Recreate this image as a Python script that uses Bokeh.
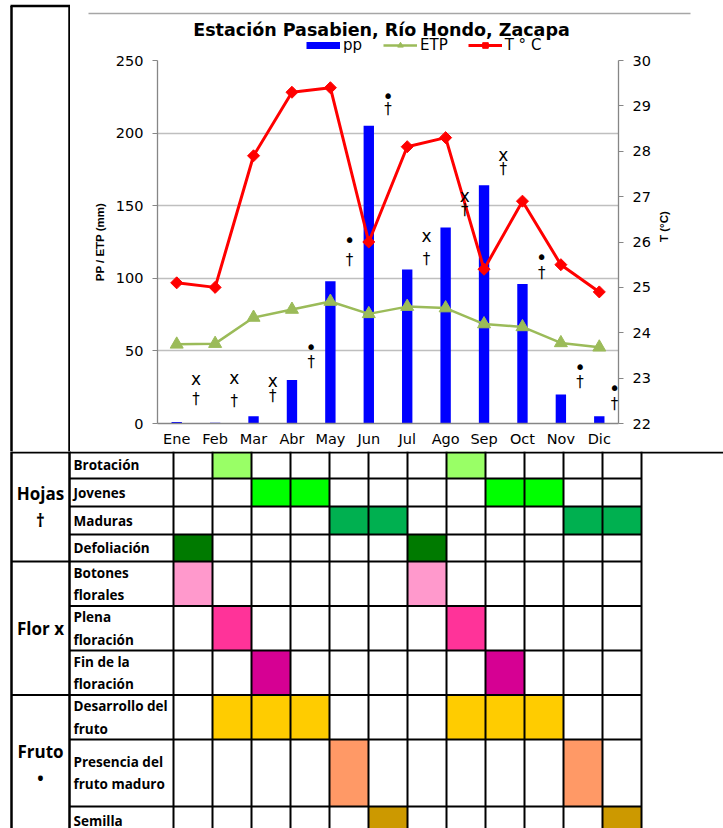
import numpy as np
from bokeh.plotting import figure
from bokeh.models import (Range1d, LinearAxis, FixedTicker, Legend, LegendItem,
                          ColumnDataSource, FactorRange, LabelSet)
from bokeh.transform import dodge
from bokeh.layouts import column, row
from bokeh.embed import file_html
from bokeh.resources import INLINE
from bokeh.core.properties import value

# ---------------- data ----------------
months = ["Ene", "Feb", "Mar", "Abr", "May", "Jun", "Jul", "Ago", "Sep", "Oct", "Nov", "Dic"]
pp = [1, 0.5, 5, 30, 98, 205, 106, 135, 164, 96, 20, 5]            # mm
etp = [54.5, 55, 73, 78.5, 84, 75.5, 80.5, 79.5, 68.5, 66.5, 55.5, 52.5]  # mm
temp = [25.1, 25.0, 27.9, 29.3, 29.4, 26.0, 28.1, 28.3, 25.4, 26.9, 25.5, 24.9]  # deg C
pp_ticks = [0, 50, 100, 150, 200, 250]
t_ticks = [22, 23, 24, 25, 26, 27, 28, 29, 30]
title_text = "Estación Pasabien, Río Hondo, Zacapa"

# phenology symbols drawn in the chart (flor x / fruto •, hojas †), height in mm units
stage_symbol = ["x", "x", "x", "•", "•", "•", "x", "x", "x", "•", "•", "•"]
stage_symbol_y = [30.8, 31.0, 29.1, 53.0, 126.5, 225.3, 129.4, 157.0, 185.2, 115.0, 39.2, 24.6]
leaf_symbol_y = [17.0, 15.4, 18.8, 42.2, 112.7, 216.7, 113.4, 147.1, 175.4, 103.5, 28.4, 13.1]

# phenology table
phen_rows = [["Brotación"], ["Jovenes"], ["Maduras"], ["Defoliación"],
             ["Botones", "florales"], ["Plena", "floración"], ["Fin de la", "floración"],
             ["Desarrollo del", "fruto"], ["Presencia del", "fruto maduro"], ["Semilla"]]
phen_months = [["Feb", "Ago"], ["Mar", "Abr", "Sep", "Oct"], ["May", "Jun", "Nov", "Dic"],
               ["Ene", "Jul"], ["Ene", "Jul"], ["Feb", "Ago"], ["Mar", "Sep"],
               ["Feb", "Mar", "Abr", "Ago", "Sep", "Oct"], ["May", "Nov"], ["Jun", "Dic"]]
phen_colors = ["#99FF66", "#00FF00", "#00B050", "#007A00", "#FF99CC", "#FF3399",
               "#D60093", "#FFCC00", "#FF9966", "#CC9900"]
group_labels = [["Hojas", "†"], ["Flor x"], ["Fruto", "•"]]
group_rows = [(0, 3), (4, 6), (7, 9)]

FONT = "DejaVu Sans"
LABEL_FONT = "Liberation Sans"
C_PP, C_ETP, C_T = "#0000FF", "#9BBB59", "#FF0000"
STRIP_W = 70
HEAD_H = 54
CHART_BOTTOM = 451
PAGE_W, PAGE_H = 723, 828


def bare(width, height, x0, x1, y_top, y_bottom):
    f = figure(width=width, height=height, x_range=Range1d(x0, x1), y_range=Range1d(y_bottom, y_top),
               output_backend="svg", toolbar_location=None, x_axis_type=None, y_axis_type=None,
               min_border=0)
    f.outline_line_color = None
    f.grid.visible = False
    return f


# ---------------- left strip beside title + chart ----------------
strip = bare(STRIP_W, CHART_BOTTOM, 0, STRIP_W, 0, CHART_BOTTOM)
strip.segment(x0=[10, 11, 69], y0=[5.5, 5.5, 5.5], x1=[70, 11, 69],
              y1=[5.5, CHART_BOTTOM + 6, CHART_BOTTOM + 6],
              line_color="black", line_width=2.5)

# ---------------- head: rule, title, legend ----------------
head = bare(PAGE_W - STRIP_W, HEAD_H, STRIP_W, PAGE_W, 0, HEAD_H)
head.segment(x0=[88], y0=[13], x1=[690], y1=[13], line_color="#A6A6A6", line_width=1.5)
head.text(x=[381], y=[29], text=[title_text], text_font=value(FONT), text_font_style="bold",
          text_font_size="17.5px", text_align="center", text_baseline="middle", text_color="black")
k_pp = head.line(x=[-50, -40], y=[-50, -50], line_color=C_PP, line_width=7)
k_etp_l = head.line(x=[-50, -40], y=[-50, -50], line_color=C_ETP, line_width=2.5)
k_etp_m = head.scatter(x=[-50], y=[-50], marker="triangle", fill_color=C_ETP, line_color=C_ETP)
k_t_l = head.line(x=[-50, -40], y=[-50, -50], line_color=C_T, line_width=3)
k_t_m = head.scatter(x=[-50], y=[-50], marker="square", angle=np.pi / 4, fill_color=C_T, line_color=C_T)
legend = Legend(items=[LegendItem(label="pp", renderers=[k_pp]),
                       LegendItem(label="ETP", renderers=[k_etp_l, k_etp_m]),
                       LegendItem(label="T ° C", renderers=[k_t_l, k_t_m])],
                orientation="horizontal", location=(306 - STRIP_W, 0),
                glyph_width=34, glyph_height=14, label_height=14,
                padding=0, margin=0, spacing=20, label_standoff=3,
                border_line_color=None, background_fill_alpha=0,
                label_text_font=FONT, label_text_font_size="15px", label_text_color="black")
head.add_layout(legend, "center")

# ---------------- chart ----------------
p = figure(width=PAGE_W - STRIP_W, height=CHART_BOTTOM - HEAD_H, x_range=FactorRange(factors=months),
           y_range=Range1d(0, 250), output_backend="svg", toolbar_location=None,
           min_border_left=157 - STRIP_W, min_border_right=PAGE_W - 618,
           min_border_top=60 - HEAD_H, min_border_bottom=CHART_BOTTOM - 423)
p.outline_line_color = None
p.xgrid.grid_line_color = None
p.ygrid.grid_line_color = "#BFBFBF"
p.ygrid.grid_line_width = 1.3
p.yaxis.ticker = FixedTicker(ticks=pp_ticks)
p.ygrid.ticker = FixedTicker(ticks=pp_ticks)
p.extra_y_ranges = {"t": Range1d(22, 30)}

p.vbar(x=months, top=pp, width=0.27, fill_color=C_PP, line_color=None)
p.line(months, etp, line_color=C_ETP, line_width=2.5)
p.scatter(months, etp, marker="triangle", size=13, fill_color=C_ETP, line_color=C_ETP)
p.line(months, temp, line_color=C_T, line_width=3, y_range_name="t")
p.scatter(months, temp, marker="square", angle=np.pi / 4, size=8.5,
          fill_color=C_T, line_color=C_T, y_range_name="t")

ax_r = LinearAxis(y_range_name="t", ticker=FixedTicker(ticks=t_ticks), axis_label="T (°C)")
p.add_layout(ax_r, "right")
p.yaxis[0].axis_label = "PP / ETP (mm)"

for ax in [p.yaxis[0], ax_r]:
    ax.axis_line_color = "#868686"
    ax.axis_line_width = 1.3
    ax.major_tick_line_color = "#868686"
    ax.major_tick_out = 5
    ax.major_tick_in = 0
    ax.minor_tick_line_color = None
    ax.major_label_text_font = FONT
    ax.major_label_text_font_size = "14.5px"
    ax.major_label_text_color = "black"
    ax.major_label_standoff = 9
    ax.axis_label_text_font = LABEL_FONT
    ax.axis_label_text_font_size = "11.5px"
    ax.axis_label_text_font_style = "bold"
    ax.axis_label_text_color = "black"
    ax.axis_label_standoff = 7
ax_r.axis_label_standoff = 10
if "axis_label_orientation" in ax_r.properties():
    ax_r.axis_label_orientation = np.pi / 2

xa = p.xaxis[0]
xa.axis_line_color = "#868686"
xa.axis_line_width = 1.3
xa.major_tick_line_color = None
xa.major_tick_out = 0
xa.major_label_text_font = FONT
xa.major_label_text_font_size = "14.5px"
xa.major_label_text_color = "black"
xa.major_label_standoff = 7

sym_src = ColumnDataSource(dict(
    m=months + months,
    y=stage_symbol_y + leaf_symbol_y,
    s=stage_symbol + ["†"] * 12,
    fs=["17px" if s == "x" else "19px" for s in stage_symbol] + ["15px"] * 12,
    xo=([0] * 11 + [-4]) * 2,
))
p.add_layout(LabelSet(x=dodge("m", 0.5, range=p.x_range), y="y", text="s", source=sym_src,
                      x_offset="xo", text_font=value(FONT), text_font_size="fs", text_color="black",
                      text_align="center", text_baseline="middle"))

# ---------------- table ----------------
TOP = CHART_BOTTOM
col_left, col_w = 173, 39
row_edges = [451, 478, 506, 534, 561, 605.5, 650, 694.5, 739, 806, 835]

t = bare(PAGE_W, PAGE_H - TOP, 0, PAGE_W, TOP, PAGE_H)

ql, qr, qt, qb, qc = [], [], [], [], []
for r, (ms, c) in enumerate(zip(phen_months, phen_colors)):
    for m in ms:
        k = months.index(m)
        ql.append(col_left + col_w * k)
        qr.append(col_left + col_w * (k + 1))
        qt.append(row_edges[r])
        qb.append(row_edges[r + 1])
        qc.append(c)
t.quad(left=ql, right=qr, top=qt, bottom=qb, fill_color=qc, line_color=None)

x0, y0, x1, y1, lw = [], [], [], [], []
for k in range(13):
    xx = col_left + col_w * k
    x0.append(xx); x1.append(xx); y0.append(TOP); y1.append(row_edges[-1]); lw.append(2)
for xx in [11, 69]:
    x0.append(xx); x1.append(xx); y0.append(TOP - 6); y1.append(row_edges[-1]); lw.append(2.5)
group_starts = [row_edges[a] for a, b in group_rows]
for e in row_edges[1:-1]:
    x0.append(11 if e in group_starts else 69); x1.append(col_left + col_w * 12)
    y0.append(e); y1.append(e); lw.append(2)
x0.append(11); x1.append(PAGE_W); y0.append(TOP + 1); y1.append(TOP + 1); lw.append(2)
t.segment(x0=x0, y0=y0, x1=x1, y1=y1, line_color="black", line_width=lw)

lx, ly, lt = [], [], []
for r, lines in enumerate(phen_rows):
    cy = (row_edges[r] + row_edges[r + 1]) / 2
    n = len(lines)
    for j, s in enumerate(lines):
        lx.append(73); ly.append(cy + (j - (n - 1) / 2) * 22.5); lt.append(s)
t.text(x=lx, y=ly, text=lt, text_font=value("Open Sans"), text_font_style="bold",
       text_font_size="13.5px", text_align="left", text_baseline="middle", text_color="black")

gx, gy, gt = [], [], []
for lines, (a, b) in zip(group_labels, group_rows):
    cy = (row_edges[a] + row_edges[b + 1]) / 2
    n = len(lines)
    for j, s in enumerate(lines):
        gx.append(40); gy.append(cy + (j - (n - 1) / 2) * 27); gt.append(s)
t.text(x=gx, y=gy, text=gt, text_font=value("Open Sans"), text_font_style="bold",
       text_font_size="17px", text_align="center", text_baseline="middle", text_color="black")

for f in [strip, head, p, t]:
    if "frame_align" in f.properties():
        f.frame_align = False

layout = column(row(strip, column(head, p, spacing=0), spacing=0), t, spacing=0)
html = file_html(layout, INLINE)
html = html.replace("<body>", '<body style="margin:0;padding:0;">', 1)
open("out.html", "w").write(html)
